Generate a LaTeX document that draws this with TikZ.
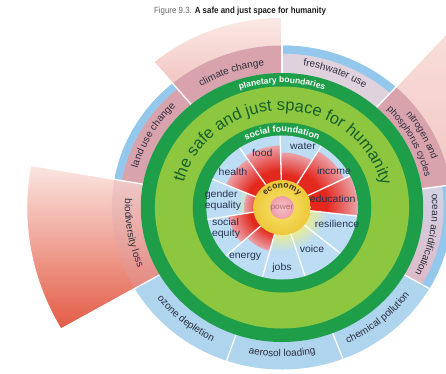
\documentclass[tikz,border=0pt]{standalone}
\usepackage{fontspec}
\setmainfont{Liberation Sans}
\usetikzlibrary{decorations.text}

\definecolor{ringblue}{HTML}{AED4EE}
\definecolor{bandblue}{HTML}{93C8EC}
\definecolor{innerblue}{HTML}{BCDDF3}
\definecolor{dkgreen}{HTML}{1F9E4A}
\definecolor{ltgreen}{HTML}{8DC63F}
\definecolor{mauve}{HTML}{D8A3AD}
\definecolor{lavender}{HTML}{E0D2DC}
\definecolor{oceantop}{HTML}{D3D3E6}
\definecolor{oceanbot}{HTML}{DDB9C6}
\definecolor{wedgein}{HTML}{F2C6C2}
\definecolor{wedgeout}{HTML}{FBE9E5}
\definecolor{bioLight}{HTML}{FBE6E1}
\definecolor{bioRed}{HTML}{E35B45}
\definecolor{sfred}{HTML}{E3281E}
\definecolor{sfpink}{HTML}{EBA2A8}
\definecolor{halocol}{HTML}{E4EA9C}
\definecolor{yelin}{HTML}{F6E86C}
\definecolor{yelout}{HTML}{EEC63A}
\definecolor{pinkin}{HTML}{F6C3C8}
\definecolor{pinkout}{HTML}{EE9DA7}
\definecolor{powertxt}{HTML}{B06A78}
\definecolor{labtext}{HTML}{2E2E3C}
\definecolor{soctext}{HTML}{26344F}
\definecolor{safetext}{HTML}{155F2C}
\definecolor{ecotext}{HTML}{3A3418}
\definecolor{titlegray}{HTML}{6B6B6B}
\definecolor{titledark}{HTML}{1E1E1E}

\pgfdeclareradialshading{shortfall}{\pgfpoint{0bp}{0bp}}{color(0bp)=(sfred); color(15bp)=(sfred); color(25bp)=(sfpink); color(50bp)=(sfpink)}
\pgfdeclareradialshading{halo}{\pgfpoint{0bp}{0bp}}{color(0bp)=(halocol); color(16bp)=(halocol); color(25bp)=(innerblue); color(50bp)=(innerblue)}

% annular sector: start angle, end angle, inner radius, outer radius
\newcommand\annsec[4]{(#1:#3) arc[start angle=#1,end angle=#2,radius=#3] -- (#2:#4) arc[start angle=#2,end angle=#1,radius=#4] -- cycle}
% text on a clockwise arc (letters point outwards): centre angle, half span, radius, text
\newcommand\cwtext[4]{\path[decorate,decoration={text along path,text align=center,text={#4}}] (#1+#2:#3) arc[start angle=#1+#2,end angle=#1-#2,radius=#3];}
% text on a counter-clockwise arc (letters point inwards)
\newcommand\ccwtext[4]{\path[decorate,decoration={text along path,text align=center,text={#4}}] (#1-#2:#3) arc[start angle=#1-#2,end angle=#1+#2,radius=#3];}
% one shortfall wedge of the social foundation: start angle, end angle, reach
\newcommand\shortfall[3]{\begin{scope}\clip \annsec{#1}{#2}{15}{#3};\shade[shading=shortfall] (0,0) circle (#3);\end{scope}}

\tikzset{
  soc/.style={font=\fontsize{10}{11}\selectfont, text=soctext, align=left, inner sep=0pt, transform shape},
  sep/.style={white, line width=1.3pt},
  wedgeedge/.style={white, line width=0.8pt}
}

\begin{document}
\begin{tikzpicture}[x=1pt,y=1pt]
\useasboundingbox (-282,-165.5) rectangle (164,207.5);
\fill[white] (-282,-165.5) rectangle (164,207.5);
\clip (-282,-165.5) rectangle (164,207.5);

\node[font=\fontsize{9}{10}\selectfont, xscale=0.88] (title) at (-42,196.5)
  {\color{titlegray}Figure 9.3. \color{titledark}\bfseries A safe and just space for humanity};

\begin{scope}[xscale=1.05]
  % planetary boundary ring
  \fill[ringblue] (0,0) circle (162);
  % overshoot wedges
  \shade[top color=bioLight, bottom color=bioRed] \annsec{170}{210}{134.5}{243};
  \fill[mauve, opacity=0.3] \annsec{170}{210}{134.5}{162};
  \shade[top color=wedgeout, bottom color=wedgein] \annsec{90}{130}{162}{190};
  \fill[mauve] \annsec{90}{130}{134.5}{162};
  \shade[top color=wedgeout, bottom color=wedgein] \annsec{8}{48}{162}{330};
  \fill[mauve] \annsec{8}{48}{134.5}{162};
  % partly used boundaries
  \fill[mauve] \annsec{130}{170}{134.5}{155};
  \fill[bandblue] \annsec{130}{170}{155}{162};
  \fill[lavender] \annsec{48}{90}{134.5}{154};
  \fill[bandblue] \annsec{48}{90}{154}{162};
  \shade[top color=oceantop, bottom color=oceanbot] \annsec{-30}{8}{134.5}{154};
  \fill[bandblue] \annsec{-30}{8}{154}{162};
  % separators
  \foreach \a in {251,291,330} \draw[sep] (\a:134.5) -- (\a:162);
  \foreach \a in {90,130} \draw[sep] (\a:134.5) -- (\a:190);
  \foreach \a in {8,48} \draw[sep] (\a:134.5) -- (\a:330);
  \foreach \a in {170,210} \draw[sep] (\a:134.5) -- (\a:243);
  \draw[wedgeedge] (90:190) arc[start angle=90,end angle=130,radius=190];
  \draw[wedgeedge] (170:243) arc[start angle=170,end angle=210,radius=243];

  % green bands
  \fill[dkgreen] (0,0) circle (134.5);
  \fill[ltgreen] (0,0) circle (121);
  \fill[dkgreen] (0,0) circle (85);
  \fill[innerblue] (0,0) circle (72);

  % social foundation
  \shade[shading=halo] (0,0) circle (44);
  \shortfall{91.4}{58.7}{55}
  \shortfall{58.7}{25.9}{66}
  \shortfall{25.9}{-6.8}{72}
  \shortfall{-105}{-137.7}{45}
  \shortfall{-137.7}{-170.5}{52}
  \shortfall{-170.5}{-203.3}{36}
  \shortfall{124}{156.7}{58}
  \shortfall{91.4}{124}{62}
  \foreach \k in {0,...,10} \draw[sep] (91.4-32.727*\k:20) -- (91.4-32.727*\k:72);

  \shade[inner color=yelin, outer color=yelout] (0,0) circle (27.5);
  \shade[inner color=pinkin, outer color=pinkout] (0,0) circle (11.5);
  \node[font=\fontsize{8}{9}\selectfont, text=powertxt, transform shape, inner sep=0pt] (power) at (0,-1) {power};
  \cwtext{90}{85}{19.5}{|\bfseries\fontsize{8.5}{9}\selectfont\color{ecotext}|economy}

  % social labels
  \node[soc] (water) at (72:64.7) {water};
  \node[soc] (income) at (36.4:61.5) {income};
  \node[soc] (education) at (10:49) {education};
  \node[soc] (resilience) at (-17.5:55) {resilience};
  \node[soc] (voice) at (-55.4:50.4) {voice};
  \node[soc] (jobs) at (-90:60.5) {jobs};
  \node[soc] (energy) at (-125.4:60.7) {energy};
  \node[soc] (socialequity) at (201:57.1) {social\\equity};
  \node[soc] (gender) at (172.4:56.7) {gender\\equality};
  \node[soc] (health) at (142.8:58.6) {health};
  \node[soc] (food) at (109:57.7) {food};

  % ring titles
  \cwtext{90}{60}{75.5}{|\bfseries\fontsize{9}{9}\selectfont\color{white}|social foundation}
  \cwtext{90}{60}{124.5}{|\bfseries\fontsize{8.5}{9}\selectfont\color{white}|planetary boundaries}
  \cwtext{89}{100}{97}{|\fontsize{16.5}{18}\selectfont\color{safetext}|the safe and just space for humanity}

  % planetary boundary labels
  \cwtext{110}{40}{143}{|\fontsize{10}{10}\selectfont\color{labtext}|climate change}
  \cwtext{69}{40}{143}{|\fontsize{10}{10}\selectfont\color{labtext}|freshwater use}
  \cwtext{28}{40}{150.5}{|\fontsize{9.5}{10}\selectfont\color{labtext}|nitrogen and}
  \cwtext{28}{40}{139.5}{|\fontsize{9.5}{10}\selectfont\color{labtext}|phosphorus cycles}
  \cwtext{-11}{40}{143}{|\fontsize{10}{10}\selectfont\color{labtext}|ocean acidification}
  \cwtext{150}{40}{143}{|\fontsize{10}{10}\selectfont\color{labtext}|land use change}
  \ccwtext{190}{40}{149.5}{|\fontsize{10}{10}\selectfont\color{labtext}|biodiversity loss}
  \ccwtext{230}{40}{149.5}{|\fontsize{10}{10}\selectfont\color{labtext}|ozone depletion}
  \ccwtext{270}{40}{149.5}{|\fontsize{10}{10}\selectfont\color{labtext}|aerosol loading}
  \ccwtext{310}{40}{149.5}{|\fontsize{10}{10}\selectfont\color{labtext}|chemical pollution}
\end{scope}
\end{tikzpicture}
\end{document}
